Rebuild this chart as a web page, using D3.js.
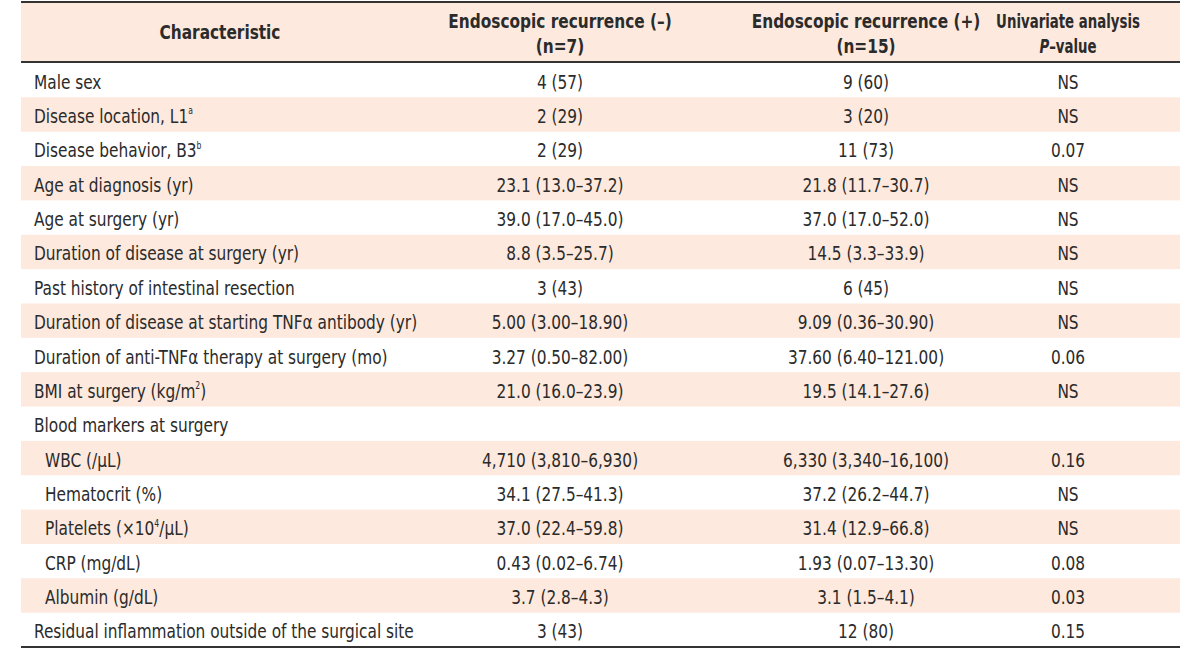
<!DOCTYPE html>
<html>
<head>
<meta charset="utf-8">
<script src="https://cdn.jsdelivr.net/npm/d3@7"></script>
<style>
  html, body { margin: 0; padding: 0; background: #fff; }
  svg { display: block; }
  text { font-family: "DejaVu Sans Condensed", "DejaVu Sans", sans-serif; fill: #2b2b2b; }
</style>
</head>
<body>
<svg id="chart" width="1200" height="650"></svg>
<script>
// ---- data ----
const headers = [
  ["Characteristic"],
  ["Endoscopic recurrence (\u2013)", "(n=7)"],
  ["Endoscopic recurrence (+)", "(n=15)"],
  ["Univariate analysis", "*P*\u2013value"]
];
const characteristics = [
  "Male sex",
  "Disease location, L1^a",
  "Disease behavior, B3^b",
  "Age at diagnosis (yr)",
  "Age at surgery (yr)",
  "Duration of disease at surgery (yr)",
  "Past history of intestinal resection",
  "Duration of disease at starting TNF\u03b1 antibody (yr)",
  "Duration of anti-TNF\u03b1 therapy at surgery (mo)",
  "BMI at surgery (kg/m^2)",
  "Blood markers at surgery",
  "WBC (/\u03bcL)",
  "Hematocrit (%)",
  "Platelets (\u00d710^4/\u03bcL)",
  "CRP (mg/dL)",
  "Albumin (g/dL)",
  "Residual inflammation outside of the surgical site"
];
const indented = [0,0,0,0,0,0,0,0,0,0,0,1,1,1,1,1,0];
const recurrenceNeg = [
  "4 (57)", "2 (29)", "2 (29)", "23.1 (13.0\u201337.2)", "39.0 (17.0\u201345.0)",
  "8.8 (3.5\u201325.7)", "3 (43)", "5.00 (3.00\u201318.90)", "3.27 (0.50\u201382.00)",
  "21.0 (16.0\u201323.9)", "", "4,710 (3,810\u20136,930)", "34.1 (27.5\u201341.3)",
  "37.0 (22.4\u201359.8)", "0.43 (0.02\u20136.74)", "3.7 (2.8\u20134.3)", "3 (43)"
];
const recurrencePos = [
  "9 (60)", "3 (20)", "11 (73)", "21.8 (11.7\u201330.7)", "37.0 (17.0\u201352.0)",
  "14.5 (3.3\u201333.9)", "6 (45)", "9.09 (0.36\u201330.90)", "37.60 (6.40\u2013121.00)",
  "19.5 (14.1\u201327.6)", "", "6,330 (3,340\u201316,100)", "37.2 (26.2\u201344.7)",
  "31.4 (12.9\u201366.8)", "1.93 (0.07\u201313.30)", "3.1 (1.5\u20134.1)", "12 (80)"
];
const pValues = [
  "NS", "NS", "0.07", "NS", "NS", "NS", "NS", "NS", "0.06", "NS", "",
  "0.16", "NS", "NS", "0.08", "0.03", "0.15"
];

// ---- layout ----
const tableLeft = 21, tableRight = 1180;
const headTop = 2, headBottom = 62, bodyBottom = 647;
const fontSize = 19.5;
const sx = 0.875; // condensed look
const headerScale = [0.875, 0.875, 0.875, 0.76];
const stripe = "#fde9de";

const svg = d3.select("#chart");

const colKeys = ["c0", "c1", "c2", "c3"];
const colX = d3.scaleOrdinal().domain(colKeys).range([220, 560, 866, 1068]);

const y = d3.scaleBand()
  .domain(d3.range(characteristics.length))
  .range([headBottom + 1, bodyBottom]);

// header background
svg.append("rect")
  .attr("x", tableLeft).attr("y", headTop)
  .attr("width", tableRight - tableLeft).attr("height", headBottom - headTop)
  .attr("fill", stripe);

// row stripes
svg.append("g").selectAll("rect")
  .data(d3.range(characteristics.length).filter(i => i % 2 === 1))
  .join("rect")
  .attr("x", tableLeft).attr("y", i => y(i))
  .attr("width", tableRight - tableLeft).attr("height", y.bandwidth())
  .attr("fill", stripe);

// rich text helper: ^x = superscript, *x* = italic
function richText(sel, str) {
  const parts = [];
  const re = /(\^[0-9a-z]+)|(\*[^*]+\*)/g;
  let last = 0, m;
  while ((m = re.exec(str)) !== null) {
    if (m.index > last) parts.push({t: str.slice(last, m.index), k: "n"});
    if (m[1]) parts.push({t: m[1].slice(1), k: "sup"});
    else parts.push({t: m[2].slice(1, -1), k: "it"});
    last = re.lastIndex;
  }
  if (last < str.length) parts.push({t: str.slice(last), k: "n"});
  let prevSup = false;
  parts.forEach(p => {
    const ts = sel.append("tspan").text(p.t);
    if (p.k === "sup") {
      ts.attr("font-size", fontSize * 0.5).attr("dy", -fontSize * 0.45);
      prevSup = true;
    } else {
      if (prevSup) ts.attr("dy", fontSize * 0.45);
      prevSup = false;
      if (p.k === "it") ts.attr("font-style", "italic");
    }
  });
}

function addText(parent, x, yy, anchor, str, bold, scaleX) {
  const t = parent.append("text")
    .attr("transform", `translate(${x},${yy}) scale(${scaleX || sx},1)`)
    .attr("text-anchor", anchor)
    .attr("font-size", fontSize);
  if (bold) t.attr("font-weight", "bold");
  richText(t, str);
  return t;
}

// header text
const hg = svg.append("g");
headers.forEach((lines, ci) => {
  if (lines.length === 1) {
    addText(hg, colX(colKeys[ci]), 39, "middle", lines[0], true, headerScale[ci]);
  } else {
    lines.forEach((ln, li) => addText(hg, colX(colKeys[ci]), 28 + li * 25, "middle", ln, true, headerScale[ci]));
  }
});

// body
const rowData = characteristics.map((c, i) => ({c, i, neg: recurrenceNeg[i], pos: recurrencePos[i], p: pValues[i], ind: indented[i]}));
const rows = svg.append("g").selectAll("g.row")
  .data(rowData)
  .join("g").attr("class", "row")
  .attr("transform", d => `translate(0,${y(d.i) + y.bandwidth() / 2 + 8.5})`);

rows.each(function(d) {
  const g = d3.select(this);
  addText(g, d.ind ? 45 : 34, 0, "start", d.c, false);
  addText(g, colX("c1"), 0, "middle", d.neg, false);
  addText(g, colX("c2"), 0, "middle", d.pos, false);
  addText(g, colX("c3"), 0, "middle", d.p, false);
});

// rules
svg.append("g").selectAll("line")
  .data([headTop, headBottom, bodyBottom]).join("line")
  .attr("x1", tableLeft).attr("x2", tableRight)
  .attr("y1", d => d).attr("y2", d => d)
  .attr("stroke", "#333").attr("stroke-width", 2);
</script>
</body>
</html>
